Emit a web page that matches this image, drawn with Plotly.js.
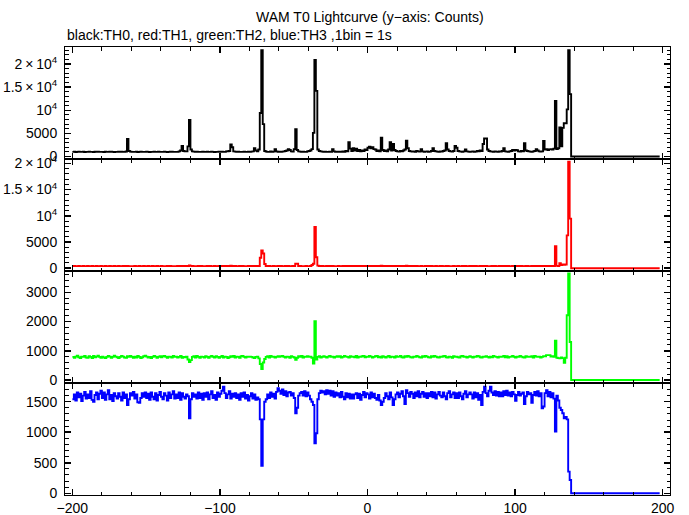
<!DOCTYPE html>
<html>
<head>
<meta charset="utf-8">
<script src="https://cdn.plot.ly/plotly-3.0.1.min.js"></script>
<style>html,body{margin:0;padding:0;background:#fff;}#chart{width:689px;height:515px;}</style>
</head>
<body>
<div id="chart"></div>
<script>
// time grid: 1 bin = 1 s, first bin at T0-200 s
const tStart = -200;
const binSize = 1;

// TH0 (black) counts, bins -200 .. 198
const th0 = [
1000,1020,980,1010,1050,990,1000,1030,970,1010,
1000,1040,990,1010,980,1020,1000,1050,990,1000,
1010,980,1030,1000,990,1020,1060,1000,980,1010,
1000,1020,990,1040,1010,1000,1080,3800,1200,1050,
1000,990,1010,1030,980,1000,1020,990,1010,1000,
1040,1000,980,1010,1000,1030,990,1000,1020,1010,
990,1000,1040,1010,980,1000,1020,1050,1000,990,
1010,1000,1100,1300,2300,1200,1100,1100,2200,7900,
1500,1100,1050,1000,1020,990,1000,1010,1040,1000,
990,1020,1000,1010,1060,1000,980,1010,1000,1030,
1000,1050,1010,1000,1100,1150,1200,2600,2000,1100,
1050,1000,1020,990,1010,1000,1030,1000,1010,1040,
1000,1050,1100,1800,1300,1100,1500,9400,23000,7000,
1200,1050,1000,1010,1100,1000,1050,1600,1100,1000,
1020,1000,1050,1100,1200,1300,1600,1400,1100,1050,
1600,5900,1400,1100,1050,1000,1020,1010,1000,1100,
1200,1300,1600,5100,20900,14200,1500,1200,1100,1050,
1000,1020,1000,1010,1050,1000,1600,1100,1000,1020,
1000,1050,1010,1100,1000,1200,1100,3070,1700,1200,
1800,1300,1700,1200,1400,1100,1300,1200,1500,1400,
1900,2100,1800,2000,1600,1500,1200,1300,1100,4070,
1400,1200,1300,1100,1500,3070,1300,2700,1400,1200,
1100,1050,1200,1100,1300,1500,3400,1800,1200,1100,
1050,1100,1000,1200,1100,1050,1600,1100,1000,1050,
1100,1000,1050,1200,1800,1200,1100,1050,1000,1100,
1050,1200,1300,2900,1500,1200,1100,1050,1200,2300,
1900,1200,1100,1050,1000,1100,1500,1100,1050,1000,
1050,1100,1000,1050,1200,1100,1300,1200,2700,3900,
3900,1500,1200,1100,1050,1000,1100,1050,1000,1100,
1050,1200,1770,1100,1050,1000,1100,1200,1400,1300,
1400,1350,1100,1050,1200,1100,2850,1300,1200,1100,
1050,1000,1100,1200,1600,1300,1100,1050,1100,3350,
1500,1600,1400,1550,1600,1500,1700,12000,1600,1800,
6300,2200,6200,7200,7200,10200,23000,13500,0,0,
0,0,0,0,0,0,0,0,0,0,
0,0,0,0,0,0,0,0,0,0,
0,0,0,0,0,0,0,0,0,0,
0,0,0,0,0,0,0,0,0,0,
0,0,0,0,0,0,0,0,0,0,
0,0,0,0,0,0,0,0,0
];

// TH1 (red)
const th1 = [
400,410,390,400,420,400,390,410,400,400,
410,400,390,420,400,400,410,390,400,420,
400,390,410,400,400,420,400,390,410,400,
400,410,400,390,420,400,410,450,400,400,
390,400,410,400,400,420,390,400,410,400,
400,420,400,390,410,400,400,410,390,400,
410,400,400,390,420,400,410,400,390,400,
400,410,400,420,450,400,410,400,430,550,
450,410,400,390,400,420,400,410,400,390,
400,410,400,420,400,390,410,400,400,410,
400,420,400,410,400,430,420,460,430,400,
410,400,390,420,400,410,400,390,400,410,
400,410,420,430,410,400,420,2000,3400,2800,
800,420,400,410,400,390,410,400,400,420,
400,410,400,390,420,400,410,400,400,410,
420,840,840,400,410,400,390,400,410,400,
400,410,600,840,7850,2100,500,420,400,410,
400,390,410,400,420,400,410,400,390,400,
410,400,400,420,400,410,430,420,410,400,
410,400,420,400,410,400,420,410,400,420,
420,430,410,400,420,410,400,410,420,500,
420,410,400,420,400,410,400,410,400,420,
400,410,420,400,410,400,500,420,400,410,
400,410,400,420,400,390,410,400,400,410,
400,420,400,410,400,400,410,390,400,420,
410,400,400,420,410,400,390,400,410,400,
400,410,400,390,420,400,410,400,400,410,
400,420,400,410,400,390,410,400,420,400,
410,400,390,400,420,400,410,400,400,410,
400,410,400,420,400,410,400,390,410,400,
410,400,420,400,410,400,400,420,410,400,
400,410,400,420,400,410,430,420,400,410,
420,400,410,430,420,410,400,4200,450,400,
960,600,700,650,700,6260,20300,9460,0,0,
0,0,0,0,0,0,0,0,0,0,
0,0,0,0,0,0,0,0,0,0,
0,0,0,0,0,0,0,0,0,0,
0,0,0,0,0,0,0,0,0,0,
0,0,0,0,0,0,0,0,0,0,
0,0,0,0,0,0,0,0,0
];

// TH2 (green)
const th2 = [
790,760,800,830,780,750,800,790,820,770,
760,810,790,750,820,780,800,830,790,760,
800,770,750,790,820,800,760,790,830,800,
780,750,790,820,800,770,760,810,790,820,
790,760,800,770,820,790,750,780,810,830,
800,770,790,750,790,820,800,760,790,810,
780,810,820,790,760,800,790,770,820,790,
800,770,790,820,760,790,780,800,700,610,
680,790,810,770,820,790,760,800,790,770,
810,790,760,800,820,790,770,810,790,760,
790,820,770,800,790,750,780,810,790,820,
770,800,790,760,810,820,790,770,800,790,
800,790,770,750,790,800,740,550,375,600,
720,790,810,770,820,790,800,770,790,810,
790,810,820,790,770,800,790,760,810,790,
770,690,760,810,790,820,770,800,790,810,
790,800,760,560,2010,700,790,810,770,790,
810,790,770,800,820,790,800,770,790,810,
790,810,770,790,820,800,790,770,810,790,
800,780,820,770,800,790,810,820,780,800,
790,820,800,770,790,810,820,780,800,770,
810,790,770,800,820,780,800,790,770,810,
790,800,820,780,770,810,790,820,800,780,
770,800,790,820,800,780,770,810,790,820,
800,780,770,810,790,820,800,780,770,800,
790,810,820,780,770,800,790,760,810,790,
800,780,770,810,820,790,800,770,790,810,
790,770,800,790,820,810,780,770,800,790,
810,790,770,800,780,820,800,790,770,800,
790,800,820,780,810,770,790,800,820,790,
770,800,790,820,800,780,770,810,790,800,
790,810,770,820,800,790,800,770,790,810,
810,850,850,850,800,810,790,1340,760,750,
740,770,750,590,760,2216,3640,1300,0,0,
0,0,0,0,0,0,0,0,0,0,
0,0,0,0,0,0,0,0,0,0,
0,0,0,0,0,0,0,0,0,0,
0,0,0,0,0,0,0,0,0,0,
0,0,0,0,0,0,0,0,0,0,
0,0,0,0,0,0,0,0,0
];

// TH3 (blue)
const th3 = [
1540,1620,1520,1650,1570,1630,1510,1600,1660,1550,
1620,1560,1670,1530,1500,1610,1650,1540,1630,1680,
1560,1650,1530,1620,1690,1540,1610,1510,1640,1590,
1550,1640,1580,1520,1650,1560,1620,1445,1540,1640,
1600,1660,1550,1620,1490,1480,1560,1640,1580,1650,
1560,1630,1530,1650,1580,1540,1640,1520,1610,1660,
1580,1540,1640,1600,1520,1650,1560,1620,1670,1550,
1620,1560,1650,1530,1640,1580,1550,1620,1590,1228,
1540,1640,1580,1620,1550,1650,1560,1630,1530,1640,
1580,1650,1540,1620,1670,1560,1610,1530,1650,1580,
1630,1680,1745,1640,1560,1620,1670,1550,1630,1580,
1640,1560,1620,1530,1640,1580,1650,1550,1610,1520,
1590,1640,1550,1620,1530,1570,1540,1210,450,1210,
1500,1540,1620,1560,1650,1580,1630,1550,1660,1720,
1680,1630,1700,1610,1670,1590,1650,1660,1600,1640,
1560,1310,1400,1600,1640,1660,1600,1670,1590,1650,
1600,1540,1500,1446,820,982,1540,1640,1680,1650,
1670,1620,1690,1630,1680,1600,1670,1580,1650,1600,
1640,1570,1660,1580,1540,1640,1570,1630,1550,1620,
1550,1620,1640,1560,1630,1530,1610,1660,1570,1640,
1620,1550,1650,1570,1630,1560,1530,1610,1520,1445,
1500,1560,1640,1590,1540,1650,1570,1445,1540,1620,
1650,1570,1630,1670,1590,1460,1690,1640,1580,1660,
1630,1560,1650,1590,1670,1570,1630,1660,1580,1640,
1560,1640,1590,1660,1570,1650,1550,1620,1660,1600,
1570,1650,1590,1540,1640,1670,1570,1620,1650,1560,
1640,1560,1650,1590,1540,1630,1670,1570,1620,1650,
1620,1550,1650,1570,1640,1530,1610,1446,1660,1745,
1640,1590,1680,1745,1650,1610,1670,1600,1660,1590,
1650,1590,1670,1610,1680,1600,1650,1590,1660,1620,
1516,1610,1660,1600,1630,1650,1462,1590,1660,1620,
1640,1480,1610,1660,1600,1670,1590,1640,1392,1420,
1640,1690,1590,1660,1570,1640,1550,1009,1600,1520,
1400,1365,1310,1228,1250,1210,354,218,0,0,
0,0,0,0,0,0,0,0,0,0,
0,0,0,0,0,0,0,0,0,0,
0,0,0,0,0,0,0,0,0,0,
0,0,0,0,0,0,0,0,0,0,
0,0,0,0,0,0,0,0,0,0,
0,0,0,0,0,0,0,0,0
];

// tick labels
const bigTickVals = [0, 5000, 10000, 15000, 20000];
const bigTickText = ['0', '5000', '10<sup>4</sup>', '1.5\u2009\u00d7\u200910<sup>4</sup>', '2\u2009\u00d7\u200910<sup>4</sup>'];

const titleText = 'WAM T0 Lightcurve (y\u2212axis: Counts)';
const subTitleText = 'black:TH0, red:TH1, green:TH2, blue:TH3 ,1bin = 1s';

const series = [
  {y: th0, color: '#000000'},
  {y: th1, color: '#ff0000'},
  {y: th2, color: '#00ff00'},
  {y: th3, color: '#0000ff'}
];

const xs = th0.map((_, i) => tStart + i * binSize);

const traces = series.map((s, k) => ({
  x: xs, y: s.y, type: 'scatter', mode: 'lines',
  xaxis: 'x' + (k === 0 ? '' : k + 1),
  yaxis: 'y' + (k === 0 ? '' : k + 1),
  line: {shape: 'hv', color: s.color, width: 1.9},
  hoverinfo: 'skip', showlegend: false
}));

const font = {family: 'Liberation Sans, Arial, Helvetica, sans-serif', size: 14, color: '#000'};

function xAxis(k, labels) {
  return {
    range: [-205, 205], anchor: 'y' + (k === 1 ? '' : k),
    showline: true, linecolor: '#000', linewidth: 1, mirror: 'ticks',
    ticks: 'inside', ticklen: 6, tickwidth: 1.5, tickcolor: '#000',
    tickmode: 'linear', tick0: 0, dtick: 100,
    minor: {ticks: 'inside', ticklen: 3.5, tickwidth: 1, tickcolor: '#000', tick0: 0, dtick: 20},
    showticklabels: labels, tickfont: font,
    showgrid: false, zeroline: false, fixedrange: true,
    matches: k === 1 ? undefined : 'x'
  };
}

function yAxis(domain, range, opts) {
  return Object.assign({
    domain: domain, range: range,
    showline: true, linecolor: '#000', linewidth: 1, mirror: 'ticks',
    ticks: 'inside', ticklen: 6, tickwidth: 1.5, tickcolor: '#000',
    ticklabelstandoff: 4,
    tickfont: font, showgrid: false, zeroline: false, fixedrange: true
  }, opts);
}

const layout = {
  width: 689, height: 515,
  margin: {l: 65, r: 19, t: 47, b: 20},
  paper_bgcolor: '#fff', plot_bgcolor: '#fff',
  showlegend: false,
  xaxis: xAxis(1, false),
  xaxis2: xAxis(2, false),
  xaxis3: xAxis(3, false),
  xaxis4: xAxis(4, true),
  yaxis: yAxis([0.75, 1], [-540, 23680], {
    anchor: 'x', tickmode: 'array', tickvals: bigTickVals, ticktext: bigTickText,
    minor: {ticks: 'inside', ticklen: 3.5, tickwidth: 1, tickcolor: '#000', tick0: 0, dtick: 1000}
  }),
  yaxis2: yAxis([0.5, 0.75], [-530, 20820], {
    anchor: 'x2', tickmode: 'array', tickvals: bigTickVals, ticktext: bigTickText,
    minor: {ticks: 'inside', ticklen: 3.5, tickwidth: 1, tickcolor: '#000', tick0: 0, dtick: 1000}
  }),
  yaxis3: yAxis([0.25, 0.5], [-102, 3727], {
    anchor: 'x3', tickmode: 'linear', tick0: 0, dtick: 1000,
    minor: {ticks: 'inside', ticklen: 3.5, tickwidth: 1, tickcolor: '#000', tick0: 0, dtick: 200}
  }),
  yaxis4: yAxis([0, 0.25], [-28, 1806], {
    anchor: 'x4', tickmode: 'linear', tick0: 0, dtick: 500,
    minor: {ticks: 'inside', ticklen: 3.5, tickwidth: 1, tickcolor: '#000', tick0: 0, dtick: 100}
  }),
  annotations: [
    {text: titleText, xref: 'paper', yref: 'paper', x: 0.504, y: 1.067,
     xanchor: 'center', yanchor: 'middle', showarrow: false,
     font: {family: font.family, size: 14, color: '#000'}},
    {text: subTitleText, xref: 'paper', yref: 'paper', x: 0, y: 1.027,
     xanchor: 'left', yanchor: 'middle', showarrow: false,
     font: {family: font.family, size: 14, color: '#000'}}
  ]
};

Plotly.newPlot('chart', traces, layout, {displayModeBar: false, staticPlot: true});
</script>
</body>
</html>
